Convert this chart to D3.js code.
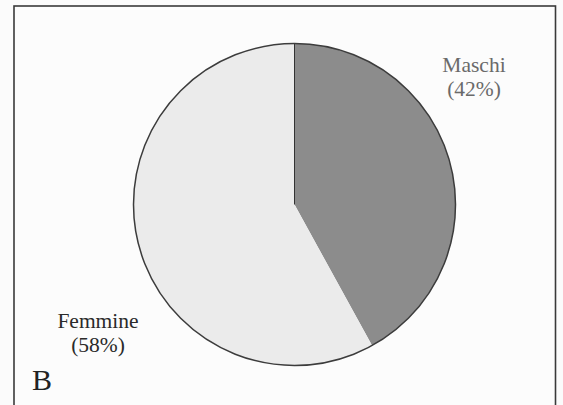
<!DOCTYPE html>
<html>
<head>
<meta charset="utf-8">
<script src="https://cdn.jsdelivr.net/npm/d3@7"></script>
<style>
  html, body { margin: 0; padding: 0; background: #fbfbfb; }
  svg { display: block; }
</style>
</head>
<body>
<svg id="chart" width="563" height="405"></svg>
<script>
// Sex distribution (percent)
const categories = ["Maschi", "Femmine"];
const values = [42, 58];
const labels = ["Maschi", "Femmine"];
const valueLabels = ["(42%)", "(58%)"];
const panelLetter = "B";

const svg = d3.select("#chart");

// Panel frame (bottom edge runs off the page)
svg.append("rect")
  .attr("x", 14).attr("y", 6)
  .attr("width", 541.5).attr("height", 420)
  .attr("fill", "#fcfcfc")
  .attr("stroke", "#3a3a3a")
  .attr("stroke-width", 1.6);

const cx = 294.5, cy = 204.5, r = 161;

const color = d3.scaleOrdinal()
  .domain(categories)
  .range(["#8c8c8c", "#ebebeb"]);

const pie = d3.pie().sort(null).value(d => d.value);
const arcs = pie(categories.map((c, i) => ({ name: c, value: values[i] })));
const arc = d3.arc().innerRadius(0).outerRadius(r);

const g = svg.append("g").attr("transform", `translate(${cx},${cy})`);

g.selectAll("path.slice")
  .data(arcs)
  .join("path")
  .attr("class", "slice")
  .attr("d", arc)
  .attr("fill", d => color(d.data.name))
  .attr("stroke", "none");

// Radial divider at 12 o'clock
const a0 = arcs[0].startAngle;
g.append("line")
  .attr("x1", 0).attr("y1", 0)
  .attr("x2", Math.sin(a0) * r).attr("y2", -Math.cos(a0) * r)
  .attr("stroke", "#333").attr("stroke-width", 1);

// Outer rim
g.append("circle")
  .attr("r", r)
  .attr("fill", "none")
  .attr("stroke", "#3c3c3c")
  .attr("stroke-width", 1.5);

// Slice labels
const labelPos = [
  { x: 474, y: 72, fill: "#6a6a6a", lh: 24 },
  { x: 98, y: 328, fill: "#2a2a2a", lh: 24 }
];
const font = "'Liberation Serif', 'DejaVu Serif', serif";

categories.forEach((c, i) => {
  const t = svg.append("text")
    .attr("x", labelPos[i].x).attr("y", labelPos[i].y)
    .attr("text-anchor", "middle")
    .attr("font-family", font)
    .attr("font-size", 21.5)
    .attr("fill", labelPos[i].fill);
  t.append("tspan").attr("x", labelPos[i].x).text(labels[i]);
  t.append("tspan").attr("x", labelPos[i].x).attr("dy", labelPos[i].lh).text(valueLabels[i]);
});

svg.append("text")
  .attr("x", 32).attr("y", 390)
  .attr("font-family", font)
  .attr("font-size", 30)
  .attr("fill", "#222")
  .text(panelLetter);
</script>
</body>
</html>
